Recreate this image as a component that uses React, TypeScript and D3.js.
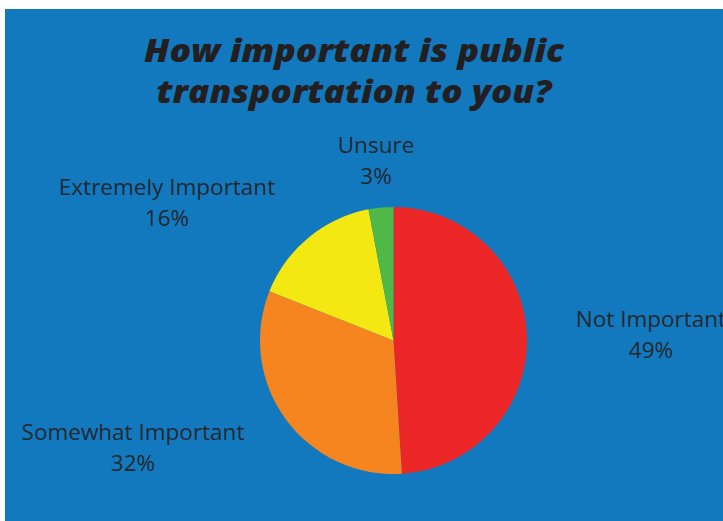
import React, { useEffect } from "react";
import * as d3 from "d3";

const categories = ["Not Important", "Somewhat Important", "Extremely Important", "Unsure"];
const values = [49, 32, 16, 3];
const colors = ["#EC2627", "#F6841F", "#F4E813", "#4FB847"];
const titleLines = ["How important is public", "transportation to you?"];

// label anchor positions (center of the two-line text block, first baseline)
const labelPos: [number, number][] = [
  [651, 327],
  [133, 440],
  [167, 195],
  [376, 153],
];
const titleWidths = [420, 395];

const W = 723;
const H = 521;
const cx = 393.5;
const cy = 340.5;
const R = 133.5;

export default function App() {
  useEffect(() => {
    document.body.style.margin = "0";
  }, []);

  const pie = d3.pie<number>().sort(null).value((d) => d);
  const arcs = pie(values);
  const arc = d3.arc<d3.PieArcDatum<number>>().innerRadius(0).outerRadius(R);
  const total = d3.sum(values);

  return (
    <svg width={W} height={H} style={{ display: "block" }}>
      <rect x={0} y={0} width={W} height={H} fill="#ffffff" />
      <rect x={5} y={9} width={W - 5} height={H - 9} fill="#1279BF" />
      {titleLines.map((t, i) => (
        <text
          key={i}
          x={354}
          y={62 + i * 41}
          textAnchor="middle"
          fontFamily="'Open Sans', sans-serif"
          fontWeight={800}
          fontStyle="italic"
          fontSize={31}
          textLength={titleWidths[i]}
          lengthAdjust="spacingAndGlyphs"
          fill="#231F20"
        >
          {t}
        </text>
      ))}
      <g transform={`translate(${cx},${cy})`}>
        {arcs.map((a, i) => (
          <path key={i} d={arc(a) || ""} fill={colors[i]} />
        ))}
      </g>
      {categories.map((c, i) => (
        <text
          key={c}
          x={labelPos[i][0]}
          y={labelPos[i][1]}
          textAnchor="middle"
          fontFamily="'Open Sans', sans-serif"
          fontSize={22.5}
          fill="#232830"
        >
          <tspan x={labelPos[i][0]}>{c}</tspan>
          <tspan x={labelPos[i][0]} dy={31}>
            {Math.round((values[i] / total) * 100)}%
          </tspan>
        </text>
      ))}
    </svg>
  );
}
